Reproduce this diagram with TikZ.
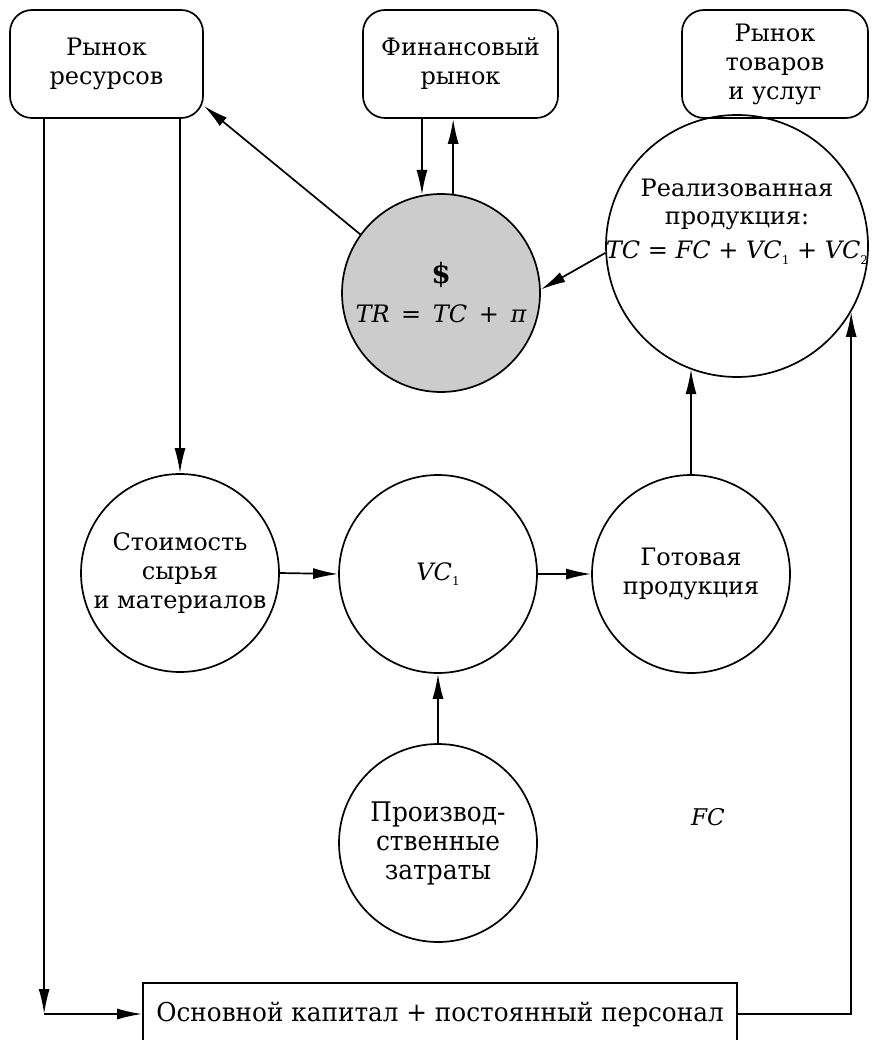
\documentclass[tikz,border=0pt]{standalone}
\usepackage{fontspec}
\setmainfont{DejaVu Serif}
\newfontfamily\condfont[FakeStretch=0.92]{DejaVu Serif}
\newfontfamily\condbfont[FakeStretch=0.95]{DejaVu Serif}
\usetikzlibrary{arrows.meta}
\newcommand\mysub[1]{\raisebox{-0.45ex}{\fontsize{12}{12}\selectfont\upshape #1}}
\begin{document}
\begin{tikzpicture}[x=1pt,y=-1pt,
  font=\fontsize{24}{29}\selectfont,
  line width=1.7pt,
  mbox/.style={draw, rounded corners=22pt, align=center, inner sep=0pt, minimum height=108pt},
  circ/.style={draw, circle, inner sep=0pt, align=center, minimum size=198pt},
  arr/.style={-{Latex[length=25pt,width=11pt]}},
  cond/.style={font=\condfont\fontsize{27}{29}\selectfont}]
\useasboundingbox (0,0) rectangle (873,1040);
\clip (0,0) rectangle (873,1040);
% markets
\node[mbox, minimum width=193pt] (rr) at (106.5,64) {Рынок\\ресурсов};
\node[mbox, minimum width=195pt] (fin) at (460.5,64) {Финансовый\\рынок};
\node[mbox, minimum width=186pt] (rt) at (775,64) {Рынок\\товаров\\и услуг};
% money
\node[circ, fill=black!20] (dol) at (441,293) {{\fontsize{28}{29}\selectfont\textbf{\$}}\\[10pt]{\itshape TR}\,\ =\ \,{\itshape TC}\,\ +\ \,{\itshape π}};
% realised production
\node[draw, circle, inner sep=0pt, minimum size=262pt] (real) at (737,246) {};
\node[align=center, inner sep=0pt] (realtxt) at (737,222) {Реализованная\\[-1pt]продукция:\\[5pt]{\itshape TC} = {\itshape FC} + {\itshape VC}\mysub{1} + {\itshape VC}\mysub{2}};
% middle row
\node[circ] (st) at (180,573) {Стоимость\\сырья\\и материалов};
\node[circ] (vc) at (438,574) {\itshape VC\mysub{1}};
\node[circ] (got) at (691,574) {Готовая\\продукция};
% bottom
\node[circ, cond] (pz) at (438,843) {Производ-\\ственные\\затраты};
\node[font=\itshape\fontsize{23}{29}\selectfont] (fcl) at (708,817) {FC};
\node[draw, minimum width=594pt, minimum height=62pt, inner sep=0pt, font=\condbfont\fontsize{26}{29}\selectfont] (fc) at (440,1014) {Основной капитал + постоянный персонал};
% connectors
\coordinate (rrL) at ([xshift=35pt]rr.south west);
\coordinate (corner) at (rrL |- fc.west);
\draw[arr] (rrL) -- (corner);
\draw[arr] (corner) -- (fc.west);
\draw[arr] (rr.south -| st.north) -- (st.north);
\draw[arr] (fin.south -| dol.101) -- (dol.101);
\draw[arr] (dol.83) -- (fin.south -| dol.83);
\draw[arr] (dol.144) -- ([yshift=13pt]rr.south east);
\draw[arr] (real.183) -- (dol.2);
\draw[arr] (st.east) -- (vc.west);
\draw[arr] (vc.east) -- (got.west);
\draw[arr] (got.north) -- (got.north |- real.249.4);
\draw[arr] (pz.north) -- (vc.south);
\draw[arr] (fc.east) -| (real.-30);
\end{tikzpicture}
\end{document}
